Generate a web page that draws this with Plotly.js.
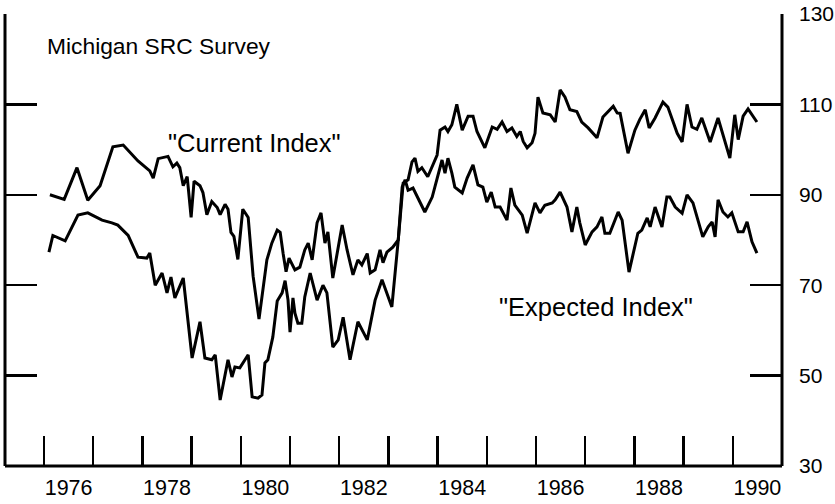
<!DOCTYPE html>
<html>
<head>
<meta charset="utf-8">
<script src="https://cdn.plot.ly/plotly-3.0.1.min.js"></script>
<style>html,body{margin:0;padding:0;background:#fff;}#chart{width:835px;height:504px;}</style>
</head>
<body>
<div id="chart"></div>
<script>
// Michigan SRC Survey, index values (x in decimal years)
const currentYears = [1976.12,1976.41,1976.67,1976.89,1977.14,1977.40,1977.61,1977.91,1978.15,1978.22,1978.32,1978.52,1978.62,1978.70,1978.76,1978.83,1978.91,1978.99,1979.05,1979.17,1979.23,1979.31,1979.41,1979.52,1979.58,1979.68,1979.74,1979.80,1979.86,1979.94,1980.04,1980.15,1980.25,1980.37,1980.53,1980.63,1980.74,1980.80,1980.86,1980.92,1980.98,1981.10,1981.20,1981.30,1981.37,1981.45,1981.55,1981.63,1981.71,1981.77,1981.87,1982.06,1982.16,1982.28,1982.38,1982.46,1982.57,1982.63,1982.73,1982.83,1982.89,1982.97,1983.09,1983.20,1983.30,1983.40,1983.48,1983.54,1983.60,1983.68,1983.80,1983.99,1984.05,1984.15,1984.21,1984.29,1984.39,1984.50,1984.62,1984.72,1984.80,1984.96,1985.11,1985.21,1985.31,1985.41,1985.51,1985.61,1985.68,1985.74,1985.82,1985.92,1985.98,1986.04,1986.14,1986.29,1986.39,1986.49,1986.59,1986.69,1986.83,1986.93,1987.06,1987.24,1987.36,1987.50,1987.57,1987.65,1987.71,1987.87,1988.01,1988.11,1988.22,1988.30,1988.42,1988.58,1988.68,1988.87,1988.97,1989.07,1989.17,1989.27,1989.37,1989.54,1989.70,1989.94,1990.04,1990.11,1990.21,1990.31,1990.49];
const currentIndex = [90,89,96,88.8,92,100.6,101,97.5,95.3,93.7,98,98.5,96.2,97,96,92,94,85,93,92,90.5,85.6,88.5,87.2,85.6,87.9,86.8,81.7,80.8,75.7,86.8,85,72,62.5,75.6,79.3,82.2,81.7,77,73,76,73.4,74,77.8,79.3,75.6,83.8,86,79.3,81.8,71.6,83.3,77.8,72.3,75.6,74.5,77,72.7,73.4,77.8,75,77.3,78.4,80,92.6,93.3,97.3,98.1,95.2,96,94,98.8,104.3,105,104,105.5,110,104.3,107.4,107.4,104,100.4,105,104.5,106.1,104,104.8,102.9,104,101.8,100.4,101.5,103.6,111.6,108.1,107.7,106.1,113.2,111.6,108.8,108.4,106.1,104.8,102.6,107.2,108.8,109.6,108.1,108,99.2,104.3,106.7,108.8,104.8,107,110.5,109.4,103.6,101.7,110,105,104.5,107,101.7,107,98.1,107.7,102.2,107.4,109,106.1];

const expectedYears = [1976.10,1976.18,1976.43,1976.69,1976.89,1977.18,1977.38,1977.50,1977.71,1977.91,1978.09,1978.15,1978.26,1978.40,1978.50,1978.58,1978.66,1978.83,1979.01,1979.17,1979.27,1979.41,1979.48,1979.58,1979.74,1979.82,1979.88,1979.98,1980.15,1980.23,1980.35,1980.43,1980.49,1980.55,1980.65,1980.74,1980.84,1980.90,1980.96,1981.00,1981.06,1981.10,1981.16,1981.24,1981.30,1981.41,1981.55,1981.67,1981.75,1981.87,1981.98,1982.08,1982.22,1982.38,1982.57,1982.73,1982.87,1983.07,1983.20,1983.28,1983.34,1983.40,1983.50,1983.64,1983.74,1983.89,1984.01,1984.09,1984.15,1984.21,1984.29,1984.35,1984.50,1984.60,1984.72,1984.82,1984.92,1985.00,1985.09,1985.17,1985.27,1985.41,1985.49,1985.57,1985.72,1985.82,1985.98,1986.08,1986.18,1986.33,1986.39,1986.49,1986.63,1986.73,1986.83,1986.89,1987.00,1987.14,1987.24,1987.34,1987.40,1987.50,1987.67,1987.75,1987.89,1988.07,1988.15,1988.26,1988.32,1988.42,1988.56,1988.66,1988.72,1988.83,1988.97,1989.07,1989.19,1989.29,1989.39,1989.50,1989.58,1989.64,1989.70,1989.80,1989.90,1989.98,1990.11,1990.21,1990.29,1990.39,1990.49];
const expectedIndex = [77.3,81,79.8,85.5,86,84.4,83.8,83.3,81,76.2,76,77.1,70,72.7,68.3,71.8,67.2,71.6,53.9,61.9,53.9,53.5,54.6,44.6,53.5,49.7,51.9,51.7,54.6,45.3,45,45.7,52.8,53.5,58.5,66.5,68.3,71,66.7,59.6,67.2,63.8,61.6,61.6,67.4,72.7,66.7,70,68.3,56.3,57.9,62.9,53.5,61.9,57.9,66.7,71.2,65.2,80,91.7,93.3,91,91.5,88.2,86.2,89.5,94.8,97.7,94.8,98.1,94.8,91.7,90.4,93.7,96.6,92.2,91.7,88.4,90.6,87.3,87.3,84.4,91.5,87.7,85.5,81.5,88.2,86,87.7,88.2,88.9,90.6,87.3,81.8,87.3,83.8,78.9,81.8,82.9,85.1,81.5,81.5,86.2,84.4,72.9,81.5,82.2,84.9,82.9,87.3,82.9,89.5,89.5,87.3,85.9,90,88.2,84.4,80.7,82.9,84,80.7,88.9,86.2,85.1,86,81.8,81.8,84,79.6,77.1];

const yearTicks = [1976,1977,1978,1979,1980,1981,1982,1983,1984,1985,1986,1987,1988,1989,1990];
const yearLabelPos = [1976.5,1978.5,1980.5,1982.5,1984.5,1986.5,1988.5,1990.5];
const yearLabels = ['1976','1978','1980','1982','1984','1986','1988','1990'];
const yTicks = [30,50,70,90,110,130];
const yTickLabels = ['30','50','70','90','110','130'];

const FONT = 'Liberation Sans, Arial, Helvetica, sans-serif';
const lineStyle = {color:'#000', width:3};

const traces = [
  {x: currentYears, y: currentIndex, mode:'lines', line: lineStyle, name:'"Current Index"', hoverinfo:'skip'},
  {x: expectedYears, y: expectedIndex, mode:'lines', line: lineStyle, name:'"Expected Index"', hoverinfo:'skip'},
  {x:[yearLabelPos[0]], y:[30], xaxis:'x2', mode:'markers', marker:{opacity:0}, hoverinfo:'skip', showlegend:false}
];

const xr = [1975.207, 1991.0];
const frame = {color:'#000', width:3};
const layout = {
  width: 835, height: 504,
  margin: {l:5, r:53, t:14, b:38},
  paper_bgcolor:'#fff', plot_bgcolor:'#fff',
  showlegend: false,
  font: {family: FONT, color:'#000', size: 20},
  xaxis: {
    range: xr, tickmode:'array', tickvals: yearTicks, showticklabels:false,
    ticks:'inside', ticklen:30, tickwidth:2.5, tickcolor:'#000',
    showline:false, showgrid:false, zeroline:false, fixedrange:true
  },
  xaxis2: {
    range: xr, overlaying:'x', anchor:'y', side:'bottom',
    tickmode:'array', tickvals: yearLabelPos, ticktext: yearLabels,
    ticks:'', showline:false, showgrid:false, zeroline:false,
    tickfont:{family:FONT, size:21.5, color:'#000'}, ticklabelstandoff: 6
  },
  yaxis: {
    range:[30,130], side:'right', tickmode:'array', tickvals:yTicks, ticktext:yTickLabels,
    ticks:'inside', ticklen:32, tickwidth:2.5, tickcolor:'#000',
    showline:false, mirror:'ticks',
    showgrid:false, zeroline:false, fixedrange:true,
    tickfont:{family:FONT, size:21, color:'#000'}, ticklabelstandoff: 16
  },
  shapes: [
    {type:'line', xref:'paper', yref:'paper', x0:0, x1:0, y0:0, y1:1, line:frame},
    {type:'line', xref:'paper', yref:'paper', x0:1, x1:1, y0:0, y1:1, line:frame},
    {type:'line', xref:'paper', yref:'paper', x0:0, x1:1, y0:0, y1:0, line:frame}
  ],
  annotations: [
    {xref:'paper', yref:'paper', x:0.0515, y:0.929, xanchor:'left', yanchor:'middle', showarrow:false,
     text:'Michigan SRC Survey', font:{family:FONT, size:22.8, color:'#000'}},
    {xref:'paper', yref:'paper', x:0.321, y:0.715, xanchor:'center', yanchor:'middle', showarrow:false,
     text:'"Current Index"', font:{family:FONT, size:25.5, color:'#000'}},
    {xref:'paper', yref:'paper', x:0.761, y:0.352, xanchor:'center', yanchor:'middle', showarrow:false,
     text:'"Expected Index"', font:{family:FONT, size:25.5, color:'#000'}}
  ]
};

Plotly.newPlot('chart', traces, layout, {staticPlot:true});
</script>
</body>
</html>
